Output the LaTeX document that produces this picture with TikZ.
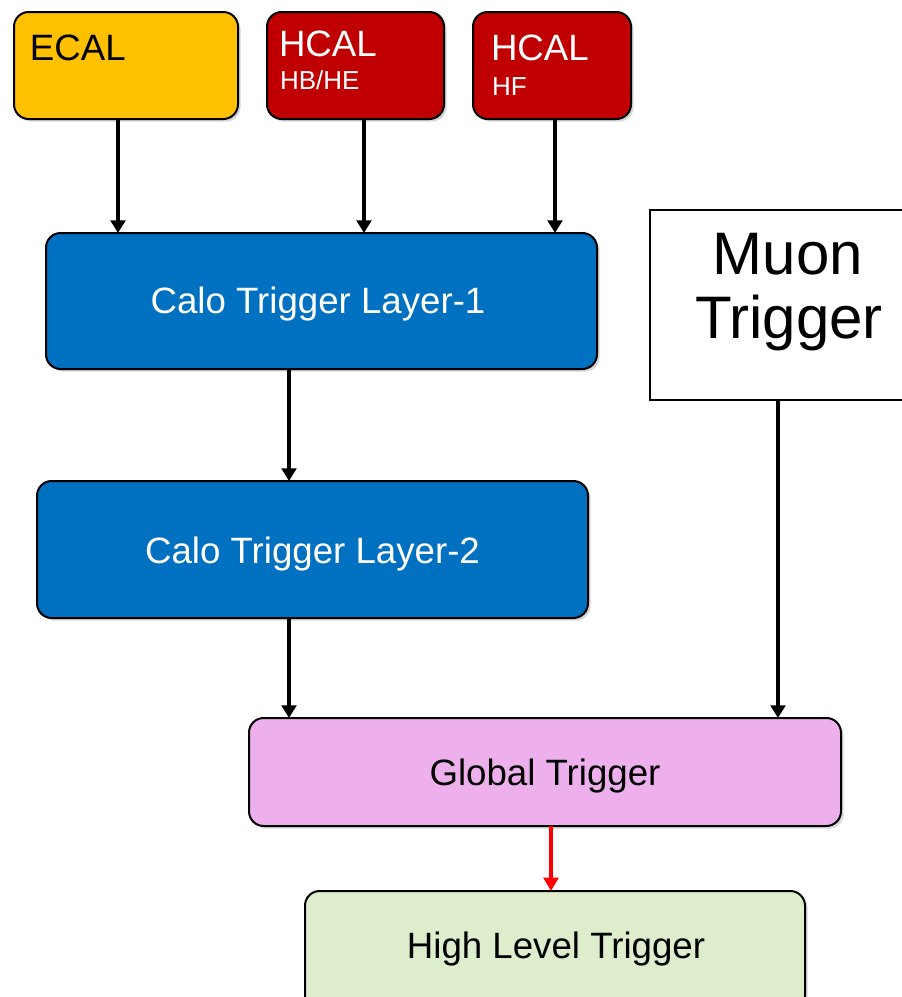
\documentclass[tikz,border=0pt]{standalone}
\usepackage{fontspec}
\setmainfont{Liberation Sans}
\usetikzlibrary{arrows.meta,shadows}
\definecolor{ecalc}{RGB}{255,192,0}
\definecolor{hcalc}{RGB}{192,0,0}
\definecolor{caloc}{RGB}{0,112,192}
\definecolor{gtc}{RGB}{238,176,236}
\definecolor{hltc}{RGB}{222,237,203}
\tikzset{
  blk/.style={draw=black, line width=1.5pt, rounded corners=11pt, inner sep=0pt, outer sep=0pt,
    drop shadow={opacity=0.3, shadow xshift=2pt, shadow yshift=-2pt}},
  sqbox/.style={draw=black, line width=1.5pt, fill=white, inner sep=0pt, outer sep=0pt},
  txt/.style={inner sep=0pt, outer sep=0pt, font=\fontsize{27.5}{33}\selectfont},
  smalltxt/.style={inner sep=0pt, outer sep=0pt, font=\fontsize{19.5}{23}\selectfont},
  bigtxt/.style={inner sep=0pt, outer sep=0pt, font=\fontsize{45}{54}\selectfont},
  arr/.style={line width=2.8pt, -{Triangle[width=11pt,length=9.5pt]}},
  redarr/.style={line width=2.8pt, red, -{Triangle[width=11pt,length=10pt]}}
}
\begin{document}
\begin{tikzpicture}[x=0.75pt,y=-0.75pt]
\useasboundingbox (0,0) rectangle (902,997);
\clip (0,0) rectangle (902,997);
\fill[white] (0,0) rectangle (902,997);

% boxes
\node[blk, fill=ecalc, minimum width=168pt, minimum height=80.25pt] (ecal) at (126,65.5) {};
\node[blk, fill=hcalc, minimum width=132.75pt, minimum height=80.25pt] (hbhe) at (355.5,65.5) {};
\node[blk, fill=hcalc, minimum width=118.5pt, minimum height=80.25pt] (hf) at (552,65.5) {};
\node[blk, fill=caloc, minimum width=413.25pt, minimum height=102pt] (l1) at (321.5,301) {};
\node[blk, fill=caloc, minimum width=413.25pt, minimum height=102.75pt] (l2) at (312.5,549.5) {};
\node[sqbox, minimum width=208.5pt, minimum height=142.5pt] (muon) at (789,305) {};
\node[blk, fill=gtc, minimum width=444pt, minimum height=81pt] (gt) at (545,772) {};
\node[blk, fill=hltc, minimum width=375pt, minimum height=89.25pt] (hlt) at (555,950.5) {};

% texts
\node[txt, anchor=base west] (tecal) at (30,60) {ECAL};
\node[txt, anchor=base west, text=white] (thcal1) at (279,56) {HCAL};
\node[smalltxt, anchor=base west, text=white] (thbhe) at (280,89) {HB/HE};
\node[txt, anchor=base west, text=white] (thcal2) at (491,60) {HCAL};
\node[smalltxt, anchor=base west, text=white] (thf) at (492,95) {HF};
\node[txt, anchor=base, text=white] (tl1) at (318,313) {Calo Trigger Layer-1};
\node[txt, anchor=base, text=white] (tl2) at (312.5,563) {Calo Trigger Layer-2};
\node[bigtxt, anchor=base] (tmuon1) at (788,274) {Muon};
\node[bigtxt, anchor=base] (tmuon2) at (789,338) {Trigger};
\node[txt, anchor=base] (tgt) at (545,785) {Global Trigger};
\node[txt, anchor=base] (thlt) at (556,958) {High Level Trigger};

% arrow x positions
\coordinate (xa) at (118,0);
\coordinate (xb) at (364,0);
\coordinate (xc) at (555,0);
\coordinate (xd) at (289,0);
\coordinate (xe) at (778,0);
\coordinate (xf) at (551,0);

\draw[arr] (ecal.south -| xa) -- (l1.north -| xa);
\draw[arr] (hbhe.south -| xb) -- (l1.north -| xb);
\draw[arr] (hf.south -| xc) -- (l1.north -| xc);
\draw[arr] (l1.south -| xd) -- (l2.north -| xd);
\draw[arr] (l2.south -| xd) -- (gt.north -| xd);
\draw[arr] (muon.south -| xe) -- (gt.north -| xe);
\draw[redarr] (gt.south -| xf) -- (hlt.north -| xf);
\end{tikzpicture}
\end{document}
